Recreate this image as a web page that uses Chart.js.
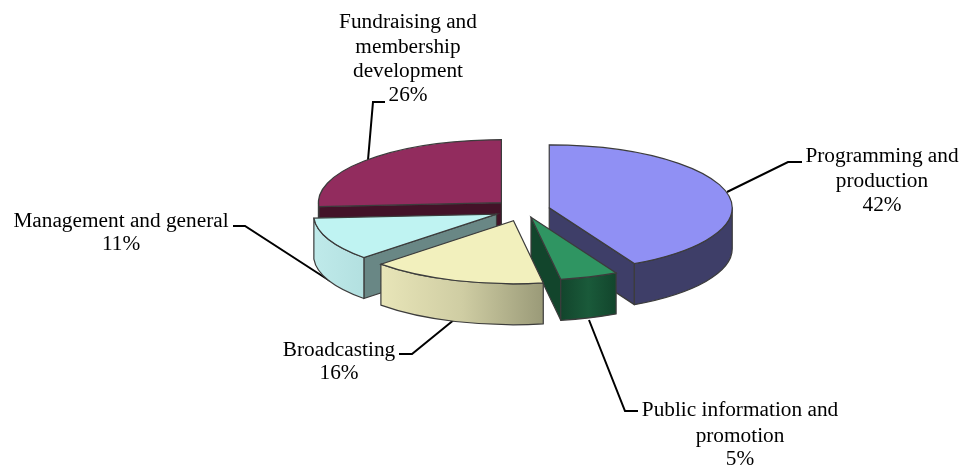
<!DOCTYPE html>
<html>
<head>
<meta charset="utf-8">
<title>Expenses</title>
<script src="https://cdn.jsdelivr.net/npm/chart.js@4/dist/chart.umd.min.js"></script>
<style>
    html, body { margin: 0; padding: 0; background: #fff; }
    canvas { display: block; }
</style>
</head>
<body>
<canvas id="pie-chart" width="964" height="468"></canvas>
<script>
// Dados do gráfico (estimados pelos ângulos das fatias; o rótulo mostra o valor arredondado)
const categories = [
    'Programming and production',
    'Public information and promotion',
    'Broadcasting',
    'Management and general',
    'Fundraising and membership development'
];
const shares = [42.3, 5.1, 15.5, 11.1, 26];

// Quebra de linha dos rótulos
const labelLines = [
    ['Programming and', 'production'],
    ['Public information and', 'promotion'],
    ['Broadcasting'],
    ['Management and general'],
    ['Fundraising and', 'membership', 'development']
];

// Cores: topo, parede externa (gradiente) e face de corte
const topColors = ['#9090f4', '#2f9562', '#f2f0bd', '#bff3f2', '#922c5e'];
const wallColors = [
    ['#3e3e68', '#3e3e68'],
    ['#12452c', '#1a5a3a', '#12452c'],
    ['#e8e5b8', '#cfcda3', '#9a9a78'],
    ['#bfeaea', '#b3e0e0'],
    ['#431228', '#431228']
];
const cutColors = ['#3e3e68', '#12452c', '#9a9a78', '#698785', '#431228'];

// Geometria da pizza em perspectiva
const explode = [26, 22, 33, 30, 31];
const drawOrder = [4, 3, 0, 1, 2];
const squash = 63 / 183;
const depth = 41;
const outline = '#3c3c3c';

// Posição dos rótulos e linhas de chamada
const labelPos = [
    { x: 882, y: [162, 187, 211] },
    { x: 740, y: [416, 442, 465] },
    { x: 339, y: [356, 379] },
    { x: 121, y: [227, 250] },
    { x: 408, y: [28, 53, 77, 101] }
];
const leaders = [
    [[727, 192], [788, 162], [802, 162]],
    [[589, 320], [625, 411], [638, 411]],
    [[455, 319], [412, 354], [399, 354]],
    [[330, 281], [245, 226], [233, 226]],
    [[368, 160], [373, 102], [385, 102]]
];

// Centro deslocado de cada fatia na tela
function sliceCenter(el, i) {
    const mid = (el.startAngle + el.endAngle) / 2;
    return {
        x: el.x + Math.cos(mid) * explode[i],
        y: el.y + Math.sin(mid) * explode[i] * squash
    };
}

function fillStroke(ctx, fill) {
    ctx.fillStyle = fill;
    ctx.fill();
    ctx.strokeStyle = outline;
    ctx.lineWidth = 1.2;
    ctx.stroke();
}

// Faces de corte visíveis
function drawCut(ctx, c, r, angle, color) {
    const px = c.x + Math.cos(angle) * r;
    const py = c.y + Math.sin(angle) * r * squash;
    ctx.beginPath();
    ctx.moveTo(c.x, c.y);
    ctx.lineTo(px, py);
    ctx.lineTo(px, py + depth);
    ctx.lineTo(c.x, c.y + depth);
    ctx.closePath();
    fillStroke(ctx, color);
}

// Parede externa da fatia (só a parte voltada para a frente)
function drawWall(ctx, c, r, from, to, stops) {
    const a0 = Math.max(from, 0);
    const a1 = Math.min(to, Math.PI);
    if (a1 <= a0) return;
    const ry = r * squash;
    const x0 = c.x + Math.cos(a0) * r;
    const x1 = c.x + Math.cos(a1) * r;
    const grad = ctx.createLinearGradient(x1, 0, x0, 0);
    stops.forEach((s, k) => grad.addColorStop(k / (stops.length - 1), s));
    ctx.beginPath();
    ctx.ellipse(c.x, c.y, r, ry, 0, a0, a1);
    ctx.ellipse(c.x, c.y + depth, r, ry, 0, a1, a0, true);
    ctx.closePath();
    fillStroke(ctx, grad);
}

// Plugin que desenha a pizza achatada com profundidade
const pie3d = {
    id: 'pie3d',
    beforeDatasetsDraw(chart) {
        const ctx = chart.ctx;
        const arcs = chart.getDatasetMeta(0).data;

        // linhas de chamada ficam atrás das fatias
        ctx.save();
        ctx.strokeStyle = '#000';
        ctx.lineWidth = 2;
        leaders.forEach(pts => {
            ctx.beginPath();
            pts.forEach((p, k) => k ? ctx.lineTo(p[0], p[1]) : ctx.moveTo(p[0], p[1]));
            ctx.stroke();
        });
        ctx.restore();

        drawOrder.forEach(i => {
            const el = arcs[i];
            const c = sliceCenter(el, i);
            const r = el.outerRadius;
            const start = el.startAngle;
            const end = el.endAngle;

            ctx.save();
            ctx.lineJoin = 'round';
            if (Math.cos(start) < -0.001) drawCut(ctx, c, r, start, cutColors[i]);
            if (Math.cos(end) > 0.001) drawCut(ctx, c, r, end, cutColors[i]);
            drawWall(ctx, c, r, start, end, wallColors[i]);
            ctx.restore();

            // topo desenhado pelo próprio elemento do Chart.js
            ctx.save();
            ctx.translate(c.x, c.y);
            ctx.scale(1, squash);
            ctx.translate(-el.x, -el.y);
            el.draw(ctx);
            ctx.restore();

            // contorno do topo em espaço de tela
            ctx.save();
            ctx.beginPath();
            ctx.moveTo(c.x, c.y);
            ctx.ellipse(c.x, c.y, r, r * squash, 0, start, end);
            ctx.closePath();
            ctx.strokeStyle = outline;
            ctx.lineWidth = 1.2;
            ctx.stroke();
            ctx.restore();
        });
        return false;
    },
    afterDraw(chart) {
        const ctx = chart.ctx;
        ctx.save();
        ctx.fillStyle = '#000';
        ctx.font = '21.3px "Liberation Serif"';
        ctx.textAlign = 'center';
        ctx.textBaseline = 'alphabetic';
        labelLines.forEach((lines, i) => {
            const pos = labelPos[i];
            lines.concat(Math.round(shares[i]) + '%').forEach((txt, k) => {
                ctx.fillText(txt, pos.x, pos.y[k]);
            });
        });
        ctx.restore();
    }
};

new Chart(document.getElementById('pie-chart').getContext('2d'), {
    type: 'pie',
    data: {
        labels: categories,
        datasets: [{
            data: shares,
            backgroundColor: topColors,
            borderWidth: 0,
            radius: 183
        }]
    },
    options: {
        responsive: false,
        animation: false,
        layout: { padding: { left: 84, bottom: 48 } },
        plugins: {
            legend: { display: false },
            tooltip: { enabled: false }
        }
    },
    plugins: [pie3d]
});
</script>
</body>
</html>
